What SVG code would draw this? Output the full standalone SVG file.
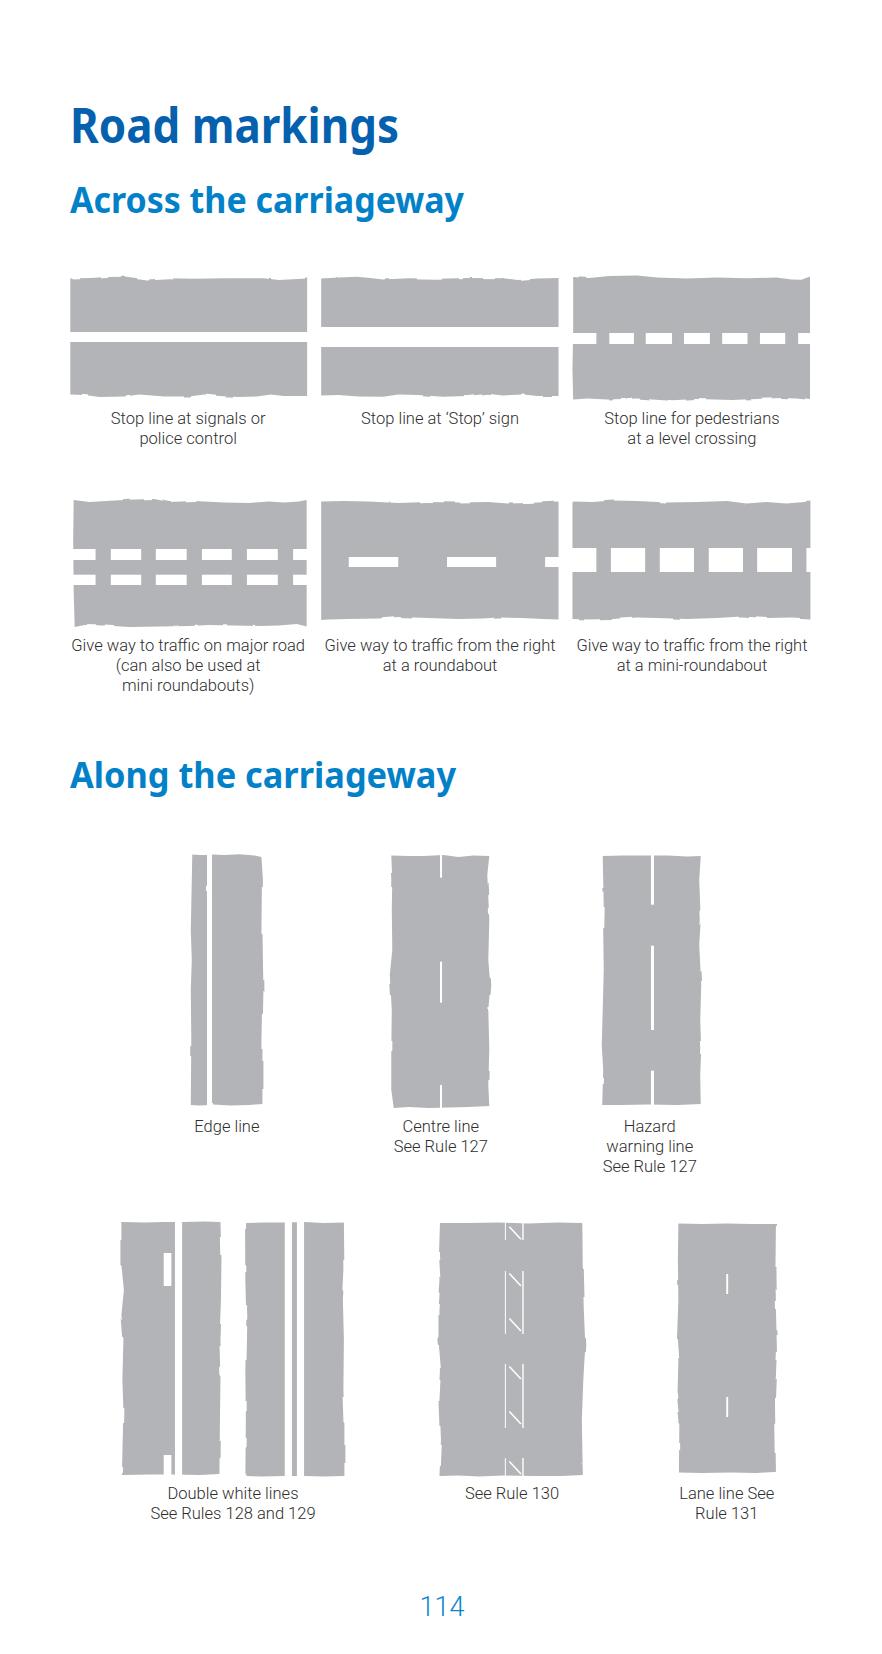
<svg xmlns="http://www.w3.org/2000/svg" width="882" height="1654" viewBox="0 0 882 1654">
<defs>
<filter id="ty" x="-5%" y="-5%" width="110%" height="110%" color-interpolation-filters="sRGB">
<feTurbulence type="fractalNoise" baseFrequency="0.05 0.01" numOctaves="2" seed="4"/>
<feColorMatrix type="matrix" values="0 0 0 0 .5 1.6 0 0 0 -.3 0 0 0 0 0 0 0 0 0 1" result="n"/>
<feDisplacementMap in="SourceGraphic" in2="n" scale="2.2" xChannelSelector="R" yChannelSelector="G"/>
</filter>
<filter id="tx" x="-8%" y="-3%" width="116%" height="106%" color-interpolation-filters="sRGB">
<feTurbulence type="fractalNoise" baseFrequency="0.01 0.03" numOctaves="2" seed="9"/>
<feColorMatrix type="matrix" values="1.6 0 0 0 -.3 0 0 0 0 .5 0 0 0 0 0 0 0 0 0 1" result="n"/>
<feDisplacementMap in="SourceGraphic" in2="n" scale="2.2" xChannelSelector="R" yChannelSelector="G"/>
</filter>
</defs>
<style>
.r{fill:#b3b4b7}
.a{filter:url(#ty)}
.b{filter:url(#tx)}
.w{fill:#fff}
.d{stroke:#fff;stroke-width:1.6;fill:none}
text{font-family:Roboto,"Liberation Sans",Arial,sans-serif}
.l{font-size:16.6px;font-weight:300;fill:#2e2e2e;text-anchor:middle}
.h{font-family:"Noto Sans",Lato,sans-serif;font-weight:700}
.t{font-size:48px;fill:#0560ae}
.s{font-size:36px;fill:#0281c9}
.p{font-size:27px;font-weight:300;fill:#0b86cc;text-anchor:middle}
</style>
<rect width="882" height="1654" fill="#fff"/>
<text class="h t" x="70" y="143" textLength="329" lengthAdjust="spacingAndGlyphs">Road markings</text>
<text class="h s" x="70" y="213" textLength="394" lengthAdjust="spacingAndGlyphs">Across the carriageway</text>
<text class="h s" x="70" y="788" textLength="386" lengthAdjust="spacingAndGlyphs">Along the carriageway</text>

<g id="across" transform="scale(.9956 1)">
<g id="stop-signals">
<path class="r a" d="M70.6 278.5L90 278 108 277 127 276.7 148 279.5 170 278.3 195 278.7 226 278.3 265 278.3 280 280 308.5 278.5V396L285 396 272 394.5 258 396.5 240 397 220 396 205 394.5 190 396.5 165 396.5 140 394.5 125 396.5 100 397 85 395 70.6 394.5Z"/>
<rect class="w" x="69" y="332" width="241" height="10"/>
<text class="l" x="189" y="424">Stop line at signals or</text>
<text class="l" x="189" y="444">police control</text>
</g>
<g id="stop-sign">
<path class="r a" d="M322.6 278.5L340 277.5 358 276.8 372 278 385 279.5 410 278.3 440 278.7 470 278 505 278.2 520 280 540 278.5 561 278V396L540 396 525 394.5 505 395.5 490 393.8 470 396 445 396.8 420 395 400 394.5 385 396.8 360 396.5 340 395 322.6 395.5Z"/>
<rect class="w" x="321" y="327" width="242" height="20"/>
<text class="l" x="442" y="424">Stop line at ‘Stop’ sign</text>
</g>
<g id="stop-crossing">
<path class="r a" d="M575.7 277L592 278 612 276 640 275.5 660 277.5 690 278.5 720 277.5 750 278.2 780 277.5 795 279.5 805 279.8 813.6 276.5V400L800 398.5 785 398 760 399 735 400 700 399 670 400.5 640 398.5 610 399.5 590 398.5 575.7 399.5 575 370 575.7 330Z"/>
<g class="w"><rect x="574" y="333" width="25" height="11"/><rect x="612" y="333" width="24.7" height="11"/><rect x="648.6" y="333" width="26.4" height="11"/><rect x="687" y="333" width="26" height="11"/><rect x="725.4" y="333" width="25.4" height="11"/><rect x="763.3" y="333" width="25.4" height="11"/><rect x="801.7" y="333" width="13" height="11"/></g>
<text class="l" x="695" y="424">Stop line for pedestrians</text>
<text class="l" x="695" y="444">at a level crossing</text>
</g>

<g id="give-way-major">
<path class="r a" d="M74 500L90 502 115 500.5 135 499.5 155 499 170 502 195 501 225 502.5 250 503 270 501.5 285 502.5 300 501.5 308 500V626.5L298 624 280 625.5 260 626 235 625.5 210 625 190 626 160 626.5 130 627 105 625.5 85 625 75 627 74 590 73.5 540Z"/>
<g class="w"><rect x="73" y="549" width="23" height="11"/><rect x="111.3" y="549" width="30.5" height="11"/><rect x="156.5" y="549" width="31" height="11"/><rect x="202.8" y="549" width="30" height="11"/><rect x="248" y="549" width="31" height="11"/><rect x="294.4" y="549" width="15" height="11"/><rect x="73" y="574.7" width="23" height="10.3"/><rect x="111.3" y="574.7" width="30.5" height="10.3"/><rect x="156.5" y="574.7" width="31" height="10.3"/><rect x="202.8" y="574.7" width="30" height="10.3"/><rect x="248" y="574.7" width="31" height="10.3"/><rect x="294.4" y="574.7" width="15" height="10.3"/></g>
<text class="l" x="189" y="651">Give way to traffic on major road</text>
<text class="l" x="189" y="671">(can also be used at</text>
<text class="l" x="189" y="691">mini roundabouts)</text>
</g>
<g id="give-way-roundabout">
<path class="r a" d="M322.6 501.5L345 501 370 501.5 400 503 430 502 460 502.5 490 502 510 503.5 530 503 561 501.5V619.5L545 619 525 618 500 617.5 485 618.5 460 619 430 618 400 617 380 618.5 350 619 330 619.5 322.6 620Z"/>
<g class="w"><rect x="350.3" y="557" width="49.7" height="10"/><rect x="449" y="557" width="49.3" height="10"/><rect x="547.5" y="557" width="15" height="10"/></g>
<text class="l" x="442" y="651">Give way to traffic from the right</text>
<text class="l" x="442" y="671">at a roundabout</text>
</g>
<g id="give-way-mini">
<path class="r a" d="M575 501.5L595 502 615 500.5 640 501 670 502.5 700 502 730 501 750 503.5 770 502 790 503.5 814 501.5V618.5L795 617.5 770 618 745 616.5 720 618 690 619 660 618 640 617.5 615 619 590 619.5 575 619Z"/>
<g class="w"><rect x="574" y="548" width="25" height="24"/><rect x="613.6" y="548" width="34.4" height="24"/><rect x="662.7" y="548" width="34.3" height="24"/><rect x="711.9" y="548" width="34.4" height="24"/><rect x="760.5" y="548" width="35" height="24"/><rect x="810" y="548" width="5" height="24"/></g>
<text class="l" x="695" y="651">Give way to traffic from the right</text>
<text class="l" x="695" y="671">at a mini-roundabout</text>
</g>
</g>

<g id="along-upper" transform="matrix(.995 0 0 1 .75 0)">
<g id="edge-line">
<path class="r b" d="M192.5 854.5L200 855 207.3 855V1105L200 1105.5 191 1105 191.5 1040 191 990 192 960 191 930 192 880ZM212.3 854.5L225 855 240 854.3 255 855.5 262 857 263.5 880 263 930 264 990 263 1040 263 1104 250 1105 230 1105.5 212.3 1104.5Z"/>
<path class="w" d="M207.3 850h5v260h-5z"/>
<text class="l" x="227.3" y="1131.7">Edge line</text>
</g>
<g id="centre-line">
<path class="r b" d="M392.5 855.5L410 856 425 856 445 855 460 857 475 855.5 491 856 489 875 491 920 490 960 492 985 490 1010 491 1050 490 1085 491 1106 470 1107 450 1107.5 430 1108 410 1107 395 1108 392.5 1090 392.5 1050 393 1010 391 975 393.5 950 393 910 393.5 880Z"/>
<g class="w"><rect x="441.5" y="853" width="2" height="24.7"/><rect x="441.5" y="961.7" width="2" height="41"/><rect x="441.5" y="1085" width="2" height="25"/></g>
<text class="l" x="442.3" y="1131.7">Centre line</text>
<text class="l" x="442.3" y="1151.7">See Rule 127</text>
</g>
<g id="hazard-line">
<path class="r b" d="M605 856L625 855.5 650 855.5 670 855.5 690 856.5 703.5 856 702 880 703.5 920 702 945 704 985 703 1020 704 1050 703 1075 703.5 1104 680 1105 650 1104.5 625 1105 604.5 1105 605.5 1070 604 1045 605 1010 606 970 605.5 930 606 905Z"/>
<g class="w"><rect x="653.5" y="853" width="3" height="51.7"/><rect x="653.5" y="945.7" width="3" height="84.3"/><rect x="653.5" y="1070.7" width="3" height="36"/></g>
<text class="l" x="652.3" y="1131.7">Hazard</text>
<text class="l" x="652.3" y="1151.7">warning line</text>
<text class="l" x="652.3" y="1171.7">See Rule 127</text>
</g>
</g>

<g id="along-lower" transform="matrix(.9955 0 0 1 .45 0)">
<g id="double-lines-a">
<path class="r b" d="M121.5 1222L145 1222.5 165 1222 185 1222 205 1221.5 221 1222 222 1260 221.5 1300 220 1340 221 1380 220.5 1420 220 1474 200 1475 175 1474.5 150 1474.5 122 1475 123.5 1410 122.5 1380 123.5 1340 121.5 1315 124 1290 121.5 1265Z"/>
<g class="w"><rect x="175.3" y="1220" width="7.2" height="257"/><rect x="164" y="1253" width="7.7" height="33"/><rect x="164" y="1455" width="7.7" height="21"/></g>
<text class="l" x="233.6" y="1499">Double white lines</text>
<text class="l" x="233.6" y="1519">See Rules 128 and 129</text>
</g>
<g id="double-lines-b">
<path class="r b" d="M245.7 1223L265 1222.5 285 1222.5 305 1222 325 1223 345 1222.5 345.5 1270 344 1300 345 1340 344.5 1390 345.5 1420 345.5 1476 325 1476.5 305 1476 285 1476 262 1476.5 246 1476 246.5 1420 246 1370 247 1320 246 1280Z"/>
<g class="w"><rect x="285.6" y="1220" width="7.2" height="258"/><rect x="297.8" y="1220" width="7.2" height="258"/></g>
</g>
<g id="rule-130">
<path class="r b" d="M441.5 1223L470 1223 500 1222.5 530 1223.5 560 1222.5 584.5 1223 585 1270 586 1310 587.5 1345 585.5 1380 584 1420 585 1475 565 1476 535 1476 505 1475.5 480 1476.5 460 1475.5 441 1476 442.5 1440 441 1400 442.5 1370 440 1340 440 1310 442 1280 440.5 1255Z"/>
<g class="w"><rect x="506.7" y="1221" width="1" height="19"/><rect x="506.7" y="1271" width="1" height="63"/><rect x="506.7" y="1364" width="1" height="64"/><rect x="506.7" y="1458" width="1" height="20"/><rect x="524.2" y="1221" width="1.4" height="19"/><rect x="524.2" y="1271" width="1.4" height="63"/><rect x="524.2" y="1364" width="1.4" height="64"/><rect x="524.2" y="1458" width="1.4" height="20"/></g>
<path class="d" d="M511.2 1226.7L522.9 1239.3M511.2 1273.5L522.9 1286M511.2 1318.5L522.9 1331M511.2 1366.5L522.9 1379M511.2 1411.5L522.9 1424M511.2 1461.5L522.9 1474"/>
<text class="l" x="513.9" y="1499">See Rule 130</text>
</g>
<g id="lane-line">
<path class="r b" d="M681 1223.5L705 1224 730 1223.5 755 1224 779 1224 778.5 1270 779 1310 780 1350 778 1400 779 1472 760 1473 735 1472.5 705 1473 681.5 1472.5 682 1420 680 1400 681 1360 679.5 1340 681 1300 680.5 1260Z"/>
<g class="w"><rect x="729.1" y="1274" width="1.9" height="20"/><rect x="729.1" y="1397" width="1.9" height="20"/></g>
<text class="l" x="729.6" y="1499">Lane line See</text>
<text class="l" x="729.6" y="1519">Rule 131</text>
</g>
</g>
<text class="p" x="442" y="1616">114</text>
</svg>
